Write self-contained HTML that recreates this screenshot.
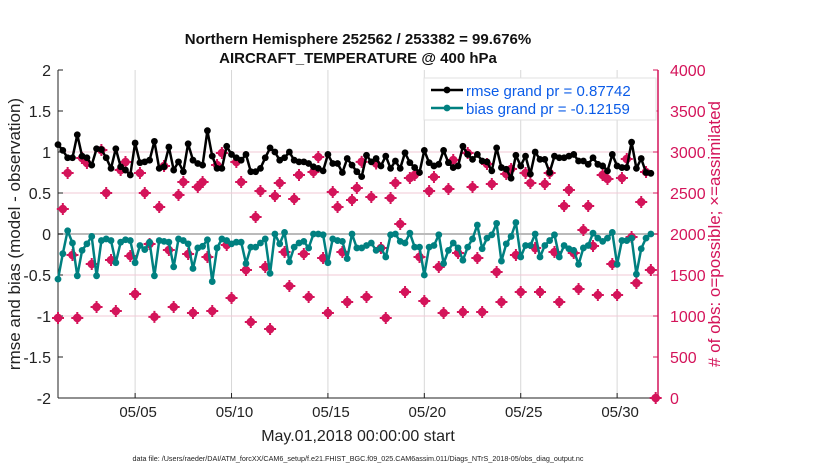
<!DOCTYPE html>
<html><head><meta charset="utf-8">
<style>
html,body{margin:0;padding:0;background:#fff;width:830px;height:470px;overflow:hidden}
svg{display:block;font-family:"Liberation Sans",sans-serif}
</style></head>
<body>
<svg id="chart" width="830" height="470" viewBox="0 0 830 470" style="position:absolute;left:0;top:0"></svg>
<script>
const rmse=[1.09,1.02,0.93,0.93,1.21,0.95,0.93,0.84,1.04,1.03,0.93,0.80,1.04,0.82,0.78,0.72,1.11,0.87,0.88,0.90,1.13,0.80,
0.82,1.06,0.78,0.88,0.76,1.10,0.90,0.86,0.84,1.26,0.95,0.80,0.80,1.07,0.97,0.93,0.90,0.97,0.76,
0.76,0.80,0.93,1.05,1.00,0.90,0.93,1.00,0.90,0.88,0.88,0.86,0.82,0.80,0.77,0.97,0.86,0.86,0.75,0.92,0.84,0.76,
0.70,0.96,0.88,0.92,0.83,0.95,0.80,0.89,0.80,0.99,0.87,0.81,0.75,1.02,0.87,0.83,0.85,1.02,0.87,0.81,0.83,1.07,
0.97,0.91,0.97,0.89,0.88,0.77,1.05,0.81,0.79,0.68,0.96,0.83,0.95,0.73,1.00,0.91,0.91,0.75,0.95,0.93,0.93,0.95,0.97,0.89,0.89,0.85,0.93,0.85,0.83,0.77,0.97,0.83,0.81,0.81,1.12,0.80,0.92,0.75,0.74];
const bias=[-0.55,-0.24,0.04,-0.11,-0.51,-0.20,-0.12,-0.03,-0.51,-0.08,-0.06,-0.08,-0.35,-0.10,-0.07,-0.08,-0.35,-0.14,-0.19,-0.10,-0.51,-0.08,
-0.09,-0.10,-0.40,-0.06,-0.08,-0.12,-0.42,-0.17,-0.15,-0.07,-0.58,-0.17,-0.06,-0.08,-0.12,-0.10,-0.10,-0.36,-0.16,
-0.16,-0.11,-0.06,-0.48,0.00,-0.12,0.02,-0.34,-0.16,-0.11,-0.09,-0.17,0.00,0.00,-0.01,-0.35,-0.06,-0.08,-0.09,-0.30,0.00,-0.17,
-0.17,-0.14,-0.11,-0.20,-0.17,-0.28,-0.01,0.00,-0.09,-0.11,0.01,-0.16,-0.16,-0.50,-0.16,-0.14,-0.01,-0.36,-0.20,-0.11,-0.17,-0.32,
-0.16,-0.06,0.11,-0.18,-0.05,-0.01,0.13,-0.33,-0.12,-0.03,0.14,-0.28,-0.14,-0.14,0.00,-0.28,-0.14,-0.08,-0.01,-0.28,-0.14,-0.18,-0.20,-0.37,-0.17,-0.14,0.01,-0.05,-0.09,-0.05,0.02,-0.37,-0.08,-0.08,-0.05,-0.49,-0.18,-0.05,0.00];
const counts=[976,2305,2744,1744,976,2927,2866,1634,1110,3024,2500,1683,1061,2780,2878,1732,1268,2744,2500,1878,990,2329,2829,1805,1110,2476,2634,1756,1037,2573,2634,1720,1061,2841,2988,1866,1220,2878,2634,1561,927,2207,2524,1598,841,2463,2622,1780,1366,2427,2720,1756,1232,2756,2939,1707,1037,2512,2329,1780,1171,2415,2561,2880,1232,2451,2860,1829,976,2439,2622,2122,1293,2683,2720,1720,1183,2524,2695,1598,1037,2549,2902,1768,1049,2988,2573,1707,1049,2854,2610,1537,1171,2732,2793,1744,1293,2744,2622,1829,1293,2610,2744,1780,1171,2341,2537,1768,1329,2049,2341,1854,1256,2720,2671,1634,1256,2683,2915,1963,1402,2390,2756,1561,0];
const xTickDays=[4,9,14,19,24,29];
const xTickLabels=["05/05","05/10","05/15","05/20","05/25","05/30"];
const yTicks=[2,1.5,1,0.5,0,-0.5,-1,-1.5,-2];
const yTickLabels=["2","1.5","1","0.5","0","-0.5","-1","-1.5","-2"];
const rTicks=[0,500,1000,1500,2000,2500,3000,3500,4000];
const rGrid=[1000,1500,2500,3000];

const NS="http://www.w3.org/2000/svg";
const svg=document.getElementById('chart');
const X0=58,X1=658,Y0=70,Y1=398,DAYPX=19.28;
const xs=d=>X0+d*DAYPX;
const ys=v=>234-v*82;
const yr=c=>Y1-c/4000*(Y1-Y0);
const RED="#d4145a",TEAL="#008080";
function el(tag,attrs,parent){const e=document.createElementNS(NS,tag);for(const k in attrs)e.setAttribute(k,attrs[k]);(parent||svg).appendChild(e);return e;}

xTickDays.forEach((d,i)=>{const g=el('line',{x1:xs(d),x2:xs(d),y1:Y0,y2:Y1,stroke:'#d8d8d8','stroke-width':1});

});
rGrid.forEach(c=>{const g=el('line',{x1:X0,x2:X1,y1:yr(c),y2:yr(c),stroke:'#f0c8d6','stroke-width':1});

});
const zl=el('line',{x1:X0,x2:X1,y1:ys(0),y2:ys(0),stroke:'#bbbbbb','stroke-width':2});



const la=el('line',{x1:X0,x2:X0,y1:Y0,y2:Y1,stroke:'#222','stroke-width':1});


const ba=el('line',{x1:X0,x2:X1,y1:Y1,y2:Y1,stroke:'#222','stroke-width':1});


const ra=el('line',{x1:X1,x2:X1,y1:Y0,y2:Y1,stroke:RED,'stroke-width':1.5});



yTicks.forEach((v,i)=>{el('line',{x1:X0,x2:X0+5,y1:ys(v),y2:ys(v),stroke:'#222'});
const t=el('text',{x:51,y:ys(v)+6,'text-anchor':'end','font-size':16,fill:'#222'});t.textContent=yTickLabels[i];

});
rTicks.forEach(c=>{el('line',{x1:X1-5,x2:X1,y1:yr(c),y2:yr(c),stroke:RED});
const t=el('text',{x:670,y:yr(c)+6,'font-size':16,fill:RED});t.textContent=String(c);

});
xTickDays.forEach((d,i)=>{el('line',{x1:xs(d),x2:xs(d),y1:Y1,y2:Y1-5,stroke:'#222'});
const t=el('text',{x:xs(d)+3,y:417,'text-anchor':'middle','font-size':15,fill:'#222'});t.textContent=xTickLabels[i];

});

counts.forEach((c,i)=>{const cx=xs(i*0.25),cy=yr(c);
const g=el('g',{});


el('circle',{cx:cx,cy:cy,r:4.3,fill:RED},g);
el('path',{d:`M${cx-6} ${cy}H${cx+6}M${cx} ${cy-6}V${cy+6}`,stroke:RED,'stroke-width':2},g);});

function series(vals,color,name){
  const pts=vals.map((v,i)=>`${xs(i*0.25).toFixed(1)},${ys(v).toFixed(1)}`).join(' ');
  const pl=el('polyline',{points:pts,fill:'none',stroke:color,'stroke-width':2.5,'stroke-linejoin':'round'});
  
  
  vals.forEach((v,i)=>{const c=el('circle',{cx:xs(i*0.25),cy:ys(v),r:3.4,fill:color});
  
  });
}
series(bias,TEAL,'bias');
series(rmse,'#000','rmse');
</script>
<svg width="830" height="470" style="position:absolute;left:0;top:0">
<g>
<rect x="424" y="78" width="232" height="42" fill="#fff" stroke="#e0e0e0"/>
<line x1="431" y1="90" x2="463" y2="90" stroke="#000" stroke-width="2.5"/><circle cx="447" cy="90" r="3.4" fill="#000"/>
<text x="466" y="96" font-size="15" fill="#0b5ce8" font-family="Liberation Sans, sans-serif">rmse grand pr = 0.87742</text>
<line x1="431" y1="108" x2="463" y2="108" stroke="#008080" stroke-width="2.5"/><circle cx="447" cy="108" r="3.4" fill="#008080"/>
<text x="466" y="114" font-size="15" fill="#0b5ce8" font-family="Liberation Sans, sans-serif">bias grand pr = -0.12159</text>
</g>
<g font-family="Liberation Sans, sans-serif">
<text x="358" y="44" text-anchor="middle" font-size="15" font-weight="bold" fill="#111">Northern Hemisphere 252562 / 253382 = 99.676%</text>
<text x="358" y="63" text-anchor="middle" font-size="15" font-weight="bold" fill="#111">AIRCRAFT_TEMPERATURE @ 400 hPa</text>
<text transform="translate(20,234) rotate(-90)" text-anchor="middle" font-size="17" fill="#222">rmse and bias (model - observation)</text>
<text transform="translate(720,234) rotate(-90)" text-anchor="middle" font-size="17" fill="#d4145a"># of obs: o=possible; ×=assimilated</text>
<text x="358" y="441" text-anchor="middle" font-size="16" fill="#222">May.01,2018 00:00:00 start</text>
<text x="358" y="461" text-anchor="middle" font-size="7.2" fill="#222">data file: /Users/raeder/DAI/ATM_forcXX/CAM6_setup/f.e21.FHIST_BGC.f09_025.CAM6assim.011/Diags_NTrS_2018-05/obs_diag_output.nc</text>
</g>
</svg>
</body></html>
